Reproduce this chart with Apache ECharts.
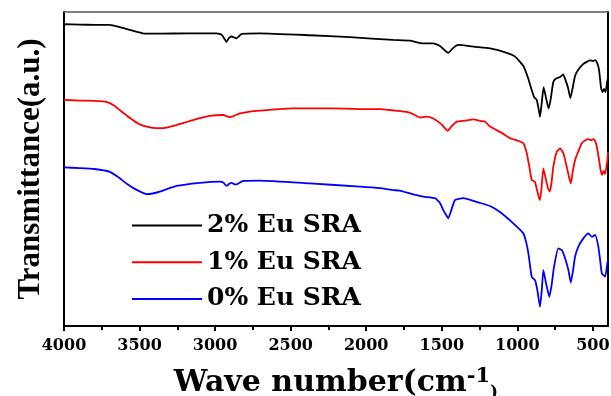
<!DOCTYPE html>
<html>
<head>
<meta charset="utf-8">
<script src="https://cdn.jsdelivr.net/npm/echarts@6/dist/echarts.min.js"></script>
<style>
html,body{margin:0;padding:0;background:#fff;}
#chart{width:611px;height:396px;}
</style>
</head>
<body>
<div id="chart"></div>
<script>
// Tick labels (wavenumber, cm-1)
const xTickLabels = ['4000','3500','3000','2500','2000','1500','1000','500'];
const xMinorTicks = [3750,3250,2750,2250,1750,1250,750];
const seriesNames = ['2% Eu SRA','1% Eu SRA','0% Eu SRA'];

// 2% Eu SRA (black): [wavenumber, transmittance a.u.]
const eu2 = [[4000,96.1],[3896,96.0],[3797,95.9],[3697,95.9],[3631,95.2],[3565,94.3],[3479,93.2],[3366,93.1],[3168,93.2],[2989,93.2],[2956,92.7],[2924,90.5],[2909,91.7],[2891,92.2],[2858,91.6],[2825,93.0],[2704,93.2],[2373,92.6],[2108,92.0],[1823,91.1],[1711,90.9],[1624,90.0],[1558,90.0],[1512,89.2],[1457,87.0],[1426,88.5],[1393,89.5],[1280,88.9],[1181,88.4],[1070,87.0],[1015,85.8],[960,82.8],[929,79.0],[909,75.8],[889,72.9],[872,72.0],[860,69.4],[850,66.6],[840,70.4],[826,76.1],[810,72.6],[793,69.3],[780,72.0],[762,77.7],[744,78.8],[717,79.3],[697,80.1],[681,78.3],[664,75.8],[649,72.6],[634,75.8],[618,79.6],[598,81.5],[565,83.4],[538,84.2],[519,84.6],[499,84.4],[485,84.7],[472,83.8],[459,81.5],[446,75.8],[436,74.5],[426,75.5],[416,74.5],[406,77.7],[400,79.0]];

// 1% Eu SRA (red)
const eu1 = [[4000,72.0],[3896,71.8],[3797,71.7],[3719,71.4],[3664,70.1],[3598,67.5],[3545,65.6],[3499,64.2],[3446,63.4],[3388,63.0],[3333,63.1],[3256,64.0],[3146,65.6],[3035,66.9],[2947,67.2],[2903,66.5],[2870,67.0],[2836,67.7],[2770,68.3],[2704,68.6],[2485,69.3],[2240,69.3],[2042,69.1],[1909,69.1],[1810,68.6],[1732,68.2],[1689,67.5],[1644,66.4],[1600,66.7],[1556,66.1],[1501,64.2],[1461,62.2],[1439,63.4],[1401,65.1],[1346,65.4],[1291,65.8],[1247,65.3],[1214,65.1],[1181,63.5],[1103,61.5],[1048,59.8],[1002,59.1],[960,58.2],[938,55.1],[919,50.3],[905,46.5],[893,46.2],[883,45.9],[870,43.3],[856,40.8],[850,40.1],[840,43.9],[828,50.2],[810,46.5],[797,43.9],[785,42.8],[773,45.9],[762,50.7],[739,55.5],[717,56.6],[695,55.0],[673,50.7],[658,47.5],[646,45.4],[634,49.0],[618,52.9],[598,55.4],[574,58.2],[552,59.1],[530,59.5],[512,59.2],[497,59.5],[485,58.9],[474,57.1],[459,52.9],[449,49.7],[439,48.1],[429,49.4],[419,48.4],[404,52.9],[400,55.4]];

// 0% Eu SRA (blue)
const eu0 = [[4000,50.5],[3896,50.3],[3797,50.0],[3697,49.1],[3644,47.5],[3587,45.4],[3525,43.5],[3454,42.0],[3413,42.2],[3366,42.8],[3256,44.6],[3101,45.6],[2969,46.0],[2946,45.7],[2924,44.6],[2909,45.2],[2891,45.6],[2876,45.2],[2858,45.1],[2815,46.2],[2704,46.3],[2373,45.4],[2042,44.4],[1909,43.9],[1821,43.3],[1777,43.1],[1689,41.9],[1623,41.2],[1545,40.7],[1512,39.2],[1490,36.9],[1472,35.4],[1457,34.3],[1439,36.6],[1413,40.1],[1358,40.7],[1247,39.2],[1181,38.2],[1115,36.3],[1027,32.7],[960,29.5],[942,26.8],[927,23.2],[905,15.7],[883,14.6],[868,11.5],[850,6.1],[838,11.5],[828,17.8],[810,13.6],[788,9.3],[773,13.1],[757,18.9],[729,24.7],[706,24.2],[684,21.6],[662,17.8],[646,13.8],[631,17.8],[618,22.1],[596,25.3],[563,27.9],[530,29.5],[507,28.4],[485,29.0],[464,25.3],[452,21.0],[441,16.8],[419,15.7],[404,20.0],[400,21.0]];

const xTicks = xTickLabels.map(Number);
const seriesData = [eu2, eu1, eu0];
const colors = ['#000000','#ff0000','#0000ff'];

const chart = echarts.init(document.getElementById('chart'), null, {renderer:'canvas'});
const serifW = 'DejaVu Serif';
chart.setOption({
  animation: false,
  backgroundColor: '#ffffff',
  grid: {left: 64, right: 3, top: 12, bottom: 70, containLabel: false, outerBoundsMode: 'none'},
  legend: {
    orient: 'vertical', left: 126, top: 208,
    itemWidth: 70, itemHeight: 24, itemGap: 11.7,
    data: seriesNames,
    itemStyle: {opacity: 0},
    lineStyle: {width: 2},
    textStyle: {fontFamily: serifW, fontWeight: 'bold', fontSize: 25, color: '#000', lineHeight: 24}
  },
  xAxis: [
    {
      type: 'value', position: 'bottom', inverse: true, min: 400, max: 4000,
      axisLine: {show: true, onZero: false, lineStyle: {color: '#000', width: 2}},
      axisTick: {show: true, inside: false, length: 5, customValues: xTicks, lineStyle: {color: '#000', width: 2}},
      axisLabel: {show: true, customValues: xTicks, margin: 12, fontFamily: serifW, fontWeight: 'bold', fontSize: 16, color: '#000',
        formatter: (v) => String(v)},
      splitLine: {show: false},
      name: 'Wave number(cm{sup|-1}{par|)}',
      nameLocation: 'middle', nameGap: 40,
      nameTextStyle: {
        fontFamily: serifW, fontWeight: 'bold', fontSize: 30, color: '#000',
        rich: {
          sup: {fontFamily: serifW, fontWeight: 'bold', fontSize: 21, color: '#000', verticalAlign: 'top', padding: [0,0,14,0]},
          par: {fontFamily: serifW, fontWeight: 'bold', fontSize: 17, color: '#000', verticalAlign: 'bottom'}
        }
      }
    },
    {
      type: 'value', position: 'bottom', inverse: true, min: 400, max: 4000,
      axisLine: {show: false, onZero: false},
      axisTick: {show: true, inside: false, length: 4, customValues: xMinorTicks, lineStyle: {color: '#000', width: 2}},
      axisLabel: {show: false}, splitLine: {show: false}
    },
    {
      type: 'value', position: 'top', inverse: true, min: 400, max: 4000,
      axisLine: {show: true, onZero: false, lineStyle: {color: '#555', width: 1.5}},
      axisTick: {show: false}, axisLabel: {show: false}, splitLine: {show: false}
    }
  ],
  yAxis: [
    {
      type: 'value', position: 'left', min: 0, max: 100,
      axisLine: {show: true, onZero: false, lineStyle: {color: '#000', width: 2}},
      axisTick: {show: false}, axisLabel: {show: false}, splitLine: {show: false},
      name: 'Transmittance(a.u.)', nameLocation: 'middle', nameRotate: 90, nameGap: 18,
      nameTextStyle: {fontFamily: 'Liberation Serif', fontWeight: 'bold', fontSize: 31, color: '#000'}
    },
    {
      type: 'value', position: 'right', min: 0, max: 100,
      axisLine: {show: true, onZero: false, lineStyle: {color: '#000', width: 2}},
      axisTick: {show: false}, axisLabel: {show: false}, splitLine: {show: false}
    }
  ],
  series: seriesNames.map((n, i) => ({
    name: n, type: 'line', data: seriesData[i],
    xAxisIndex: 0, yAxisIndex: 0,
    symbol: 'none', showSymbol: false, smooth: 0.15,
    lineStyle: {color: colors[i], width: 1.8},
    itemStyle: {color: colors[i]}
  }))
});
</script>
</body>
</html>
